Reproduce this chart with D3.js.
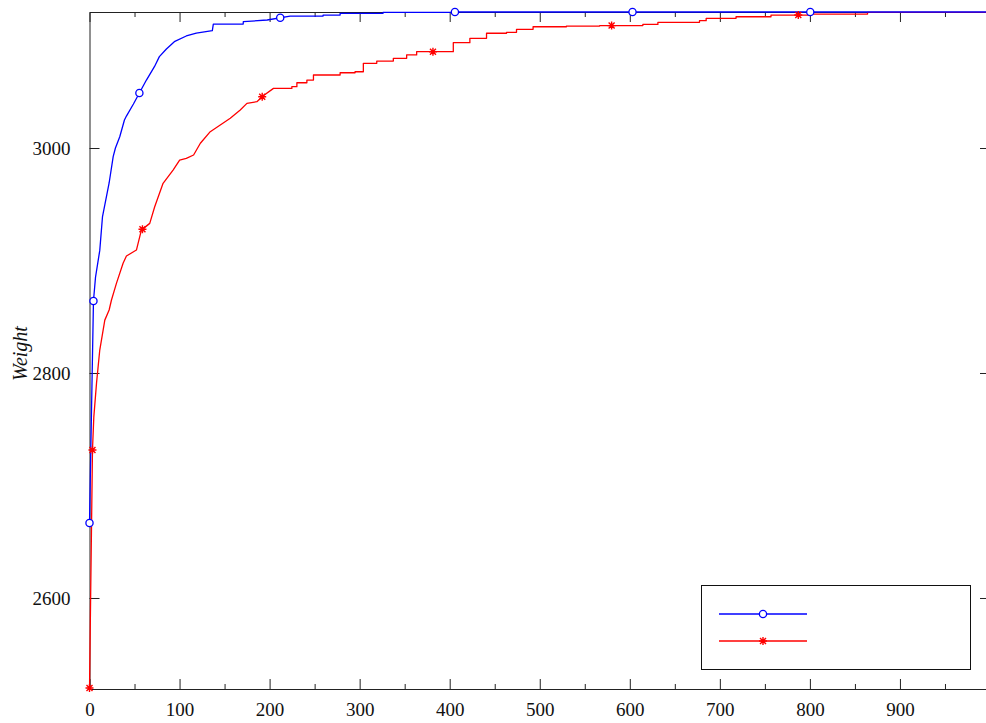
<!DOCTYPE html>
<html>
<head>
<meta charset="utf-8">
<script src="https://cdn.jsdelivr.net/npm/d3@7"></script>
<style>
  html, body { margin: 0; padding: 0; background: #fff; }
  svg { display: block; }
</style>
</head>
<body>
<svg id="chart" width="986" height="723"></svg>
<script>
// ---- data ----
const blueIter   = [0, 4.4, 6.7, 11.4, 14.4, 21.8, 26.3, 28.8, 33.6, 38.8, 41, 48.8, 55.4, 63.2, 72.1, 77.6, 85.4, 94.2, 107.5, 118.6, 136.4, 137.5, 170.7, 170.8, 197.3, 222.8, 259.4, 278.3, 326, 403.5, 1000];
const blueWeight = [2666.7, 2864, 2885.3, 2909, 2938.7, 2968.9, 2992.3, 3000, 3010, 3024.9, 3028.4, 3039.1, 3048.9, 3060.4, 3072.3, 3081.2, 3088, 3094.5, 3099.6, 3102.2, 3104.3, 3110.2, 3110.2, 3112.3, 3113.8, 3117.3, 3118.2, 3119.7, 3120.6, 3120.9, 3120.9];

const redIter   = [0, 3.3, 4.8, 7.8, 11.4, 17, 21.8, 24.4, 29.9, 37.3, 41, 52.1, 57.6, 66.9, 72.4, 81.7, 92.8, 100.1, 107.5, 115.6, 123.1, 134.1, 145.2, 156.3, 167.4, 174.8, 185.9, 192.6, 204.3, 224.7, 230.3, 241.4, 248.7, 278.3, 294.9, 304.1, 319, 337.4, 352.2, 363.3, 381.7, 404, 422.4, 440.9, 463.1, 474.2, 492.6, 529.6, 566.5, 579.5, 614.5, 631.2, 677.4, 684.8, 718, 756.8, 786.4, 799.3, 864, 1000];
const redWeight = [2520, 2731.6, 2761, 2791, 2820.4, 2847, 2856, 2864.9, 2879.7, 2897.5, 2904, 2909.3, 2927, 2933, 2947.8, 2968.6, 2980.4, 2989.3, 2990.8, 2993.8, 3004.2, 3014.5, 3020.4, 3026.4, 3033.8, 3039.7, 3041.2, 3046.2, 3053, 3054.5, 3058, 3060.4, 3064.9, 3066.9, 3067.8, 3075.3, 3077.3, 3079.7, 3082.7, 3085.6, 3085.6, 3093.6, 3097.5, 3102, 3102.8, 3105.5, 3107.8, 3108.4, 3108.7, 3108.8, 3109.9, 3111.7, 3113.2, 3115.3, 3116.7, 3118.2, 3118.2, 3119.1, 3120.6, 3120.7];

const blueMarkerIter = [0, 4.4, 55.4, 211.8, 405.8, 603, 800.4];
const redMarkerIter  = [0, 3.3, 58.8, 191.8, 381.4, 579.8, 787.1];

const xMajorTicks = [0, 100, 200, 300, 400, 500, 600, 700, 800, 900];
const xMinorTicks = [50, 150, 250, 350, 450, 550, 650, 750, 850, 950];
const yMajorTicks = [2600, 2800, 3000];
const xDomain = [0, 1000];
const yDomain = [2519.1, 3120.9];
const yLabel = "Weight";
const legendLabels = ["", ""];
// the curves rise in discrete steps once past this iteration
const stepFrom = 200;

// ---- layout ----
const pL = 89.5, pR = 990, pT = 12, pB = 689;
const svg = d3.select("#chart");
const x = d3.scaleLinear().domain(xDomain).range([pL, pR]);
const y = d3.scaleLinear().domain(yDomain).range([pB, pT]);

const blue = "#0000ff", red = "#ff0000";
const axisColor = "#222";
const font = "'Liberation Serif', 'DejaVu Serif', serif";

svg.append("defs").append("clipPath").attr("id", "plotclip")
  .append("rect").attr("x", pL - 1).attr("y", pT - 1)
  .attr("width", pR - pL + 2).attr("height", pB - pT + 2);

function styleAxis(g) {
  g.attr("font-family", font);
  g.select(".domain").attr("stroke", axisColor).attr("stroke-width", 1);
  g.selectAll(".tick line").attr("stroke", axisColor).attr("stroke-width", 1);
  g.selectAll(".tick text").attr("font-size", 19).attr("fill", "#111");
}

const xb = svg.append("g").attr("transform", `translate(0,${pB})`)
  .call(d3.axisBottom(x).tickValues(xMajorTicks).tickSizeInner(-10).tickSizeOuter(0).tickPadding(14).tickFormat(d3.format("d")));
styleAxis(xb);
svg.append("g").attr("transform", `translate(0,${pB})`)
  .call(d3.axisBottom(x).tickValues(xMinorTicks).tickSizeInner(-5).tickSizeOuter(0).tickFormat(""))
  .call(g => { g.select(".domain").remove(); styleAxis(g); });

const xt = svg.append("g").attr("transform", `translate(0,${pT})`)
  .call(d3.axisTop(x).tickValues(xMajorTicks).tickSizeInner(-10).tickSizeOuter(0).tickFormat(""));
styleAxis(xt);
svg.append("g").attr("transform", `translate(0,${pT})`)
  .call(d3.axisTop(x).tickValues(xMinorTicks).tickSizeInner(-5).tickSizeOuter(0).tickFormat(""))
  .call(g => { g.select(".domain").remove(); styleAxis(g); });

const yl = svg.append("g").attr("transform", `translate(${pL},0)`)
  .call(d3.axisLeft(y).tickValues(yMajorTicks).tickSizeInner(-10).tickSizeOuter(0).tickPadding(19).tickFormat(d3.format("d")));
styleAxis(yl);

const yr = svg.append("g").attr("transform", `translate(${pR},0)`)
  .call(d3.axisRight(y).tickValues(yMajorTicks).tickSizeInner(-10).tickSizeOuter(0).tickFormat(""));
styleAxis(yr);

svg.append("text")
  .attr("transform", `translate(27,${(pT + pB) / 2 + 3}) rotate(-90)`)
  .attr("text-anchor", "middle")
  .attr("font-family", font).attr("font-style", "italic").attr("font-size", 20)
  .attr("fill", "#111")
  .text(yLabel);

const series = [
  { iter: blueIter, w: blueWeight, color: blue, markers: blueMarkerIter, type: "circle" },
  { iter: redIter,  w: redWeight,  color: red,  markers: redMarkerIter,  type: "star" }
];

// path points: linear in the steep start, step-after in the flat tail
function pathPoints(iters, vals) {
  const pts = [];
  for (let i = 0; i < iters.length; i++) {
    if (i > 0 && iters[i - 1] >= stepFrom) pts.push([iters[i], vals[i - 1]]);
    pts.push([iters[i], vals[i]]);
  }
  return pts;
}
function valueAt(pts, t) {
  const xs = pts.map(p => p[0]);
  let i = d3.bisectRight(xs, t);
  i = Math.max(1, Math.min(pts.length - 1, i));
  const a = pts[i - 1], b = pts[i];
  const f = b[0] === a[0] ? 1 : (t - a[0]) / (b[0] - a[0]);
  return a[1] + Math.max(0, Math.min(1, f)) * (b[1] - a[1]);
}

const line = d3.line().x(d => x(d[0])).y(d => y(d[1]));
const plot = svg.append("g").attr("clip-path", "url(#plotclip)");

function drawMarker(g, type, color, cx, cy) {
  if (type === "circle") {
    g.append("circle").attr("cx", cx).attr("cy", cy).attr("r", 3.6)
      .attr("fill", "#fff").attr("stroke", color).attr("stroke-width", 1.3);
  } else {
    const s = 4, d = 3;
    g.append("path")
      .attr("d", `M${cx},${cy - s}L${cx},${cy + s}M${cx - s},${cy}L${cx + s},${cy}M${cx - d},${cy - d}L${cx + d},${cy + d}M${cx - d},${cy + d}L${cx + d},${cy - d}`)
      .attr("stroke", color).attr("stroke-width", 1.4).attr("fill", "none");
  }
}

series.forEach(s => { s.pts = pathPoints(s.iter, s.w); });

[series[1], series[0]].forEach(s => {
  plot.append("path").datum(s.pts).attr("d", line)
    .attr("fill", "none").attr("stroke", s.color).attr("stroke-width", 1.3)
    .attr("stroke-linejoin", "round");
});
[series[1], series[0]].forEach(s => {
  s.markers.forEach(t => drawMarker(svg, s.type, s.color, x(t), y(valueAt(s.pts, t))));
});

const lg = svg.append("g");
lg.append("rect").attr("x", 701.5).attr("y", 585.5).attr("width", 269).attr("height", 84)
  .attr("fill", "#fff").attr("stroke", "#111").attr("stroke-width", 1);
[series[0], series[1]].forEach((s, i) => {
  const ly = 614 + i * 27;
  lg.append("line").attr("x1", 719).attr("x2", 807).attr("y1", ly).attr("y2", ly)
    .attr("stroke", s.color).attr("stroke-width", 1.3);
  drawMarker(lg, s.type, s.color, 763, ly);
  lg.append("text").attr("x", 820).attr("y", ly + 6).attr("font-family", font)
    .attr("font-size", 18).text(legendLabels[i]);
});
</script>
</body>
</html>
